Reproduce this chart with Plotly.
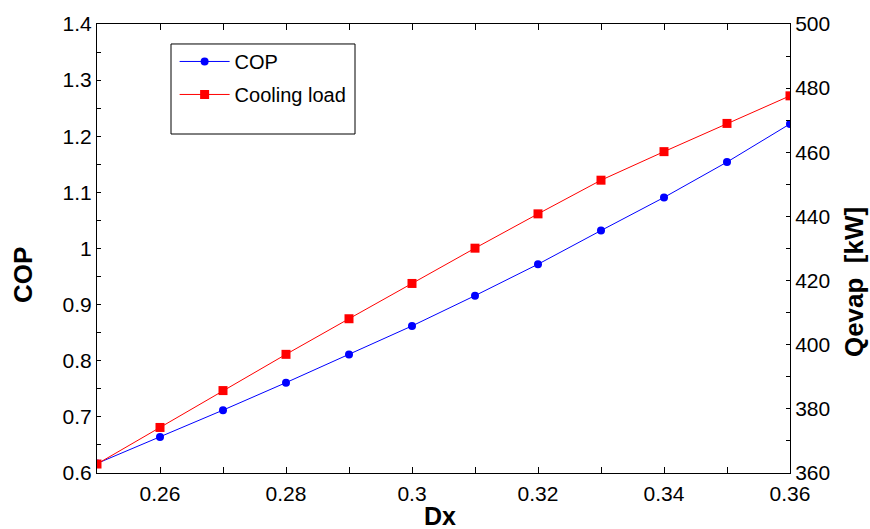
import plotly.graph_objects as go

# Dx sweep and the two responses
dx = [0.25, 0.26, 0.27, 0.28, 0.29, 0.30, 0.31, 0.32, 0.33, 0.34, 0.35, 0.36]
cop = [0.617, 0.664, 0.712, 0.761, 0.811, 0.862, 0.916, 0.972, 1.032, 1.091, 1.154, 1.222]
qevap = [362.8, 374.2, 385.7, 397.0, 408.1, 419.1, 430.1, 440.8, 451.3, 460.2, 469.0, 477.6]

x_ticks = [0.26, 0.28, 0.30, 0.32, 0.34, 0.36]
x_labels = ["0.26", "0.28", "0.3", "0.32", "0.34", "0.36"]
cop_ticks = [0.6, 0.7, 0.8, 0.9, 1.0, 1.1, 1.2, 1.3, 1.4]
cop_labels = ["0.6", "0.7", "0.8", "0.9", "1", "1.1", "1.2", "1.3", "1.4"]
q_ticks = [360, 380, 400, 420, 440, 460, 480, 500]
q_labels = [str(v) for v in q_ticks]

FONT = "Liberation Sans, Arial, sans-serif"

fig = go.Figure()
fig.add_trace(go.Scatter(
    x=dx, y=cop, name="COP", mode="lines+markers", legendgroup="cop",
    line=dict(color="#0000ff", width=1),
    marker=dict(symbol="circle", size=8, color="#0000ff"),
    yaxis="y",
))
fig.add_trace(go.Scatter(
    x=dx, y=qevap, name="Cooling load", mode="lines+markers", legendgroup="q",
    line=dict(color="#ff0000", width=1),
    marker=dict(symbol="square", size=9, color="#ff0000"),
    yaxis="y2",
))

axis_common = dict(
    showgrid=False, zeroline=False, showline=True, linecolor="black", linewidth=1,
    ticks="inside", tickcolor="black", tickwidth=1,
    tickfont=dict(family=FONT, size=21, color="black"),
)

title_font = dict(family=FONT, size=26, color="black")

fig.update_layout(
    width=870, height=529,
    margin=dict(l=97, r=80, t=24, b=56),
    paper_bgcolor="white", plot_bgcolor="white",
    hovermode=False,
    font=dict(family=FONT, color="black"),
    xaxis=dict(
        **axis_common, range=[0.25, 0.36], mirror="ticks",
        tickvals=x_ticks, ticktext=x_labels, ticklen=6, ticklabelstandoff=2,
        minor=dict(tickvals=[0.27, 0.29, 0.31, 0.33, 0.35], ticklen=6,
                   ticks="inside", tickcolor="black"),
    ),
    yaxis=dict(
        **axis_common, range=[0.6, 1.4],
        tickvals=cop_ticks, ticktext=cop_labels, ticklen=4,
        minor=dict(dtick=0.05, tick0=0.6, ticklen=4, ticks="inside", tickcolor="black"),
    ),
    yaxis2=dict(
        **axis_common, range=[360, 500], overlaying="y", side="right",
        tickvals=q_ticks, ticktext=q_labels, ticklen=4,
        minor=dict(dtick=10, tick0=360, ticklen=4, ticks="inside", tickcolor="black"),
    ),
    showlegend=True,
    legend=dict(
        x=0.112, y=0.96, xanchor="left", yanchor="top",
        bgcolor="rgba(0,0,0,0)", borderwidth=0,
        font=dict(family=FONT, size=20, color="black"),
        itemwidth=50, tracegroupgap=4,
    ),
    shapes=[dict(
        type="rect", xref="paper", yref="paper",
        x0=0.1068, x1=0.3723, y0=0.755, y1=0.9555,
        line=dict(color="black", width=1), fillcolor="white", layer="below",
    )],
    annotations=[
        dict(text="<b>COP</b>", xref="paper", yref="paper", x=-0.1068, y=0.441,
             xanchor="center", yanchor="middle",
             textangle=-90, showarrow=False, font=title_font),
        dict(text="<b>Dx</b>", xref="paper", yref="paper", x=0.495, y=-0.0958,
             xanchor="center", yanchor="middle",
             showarrow=False, font=dict(family=FONT, size=25, color="black")),
        dict(text="<b>Qevap  [kW]</b>", xref="paper", yref="paper", x=1.0925, y=0.4254,
             xanchor="center", yanchor="middle",
             textangle=-90, showarrow=False, font=title_font),
    ],
)

fig.write_html("out.html")
